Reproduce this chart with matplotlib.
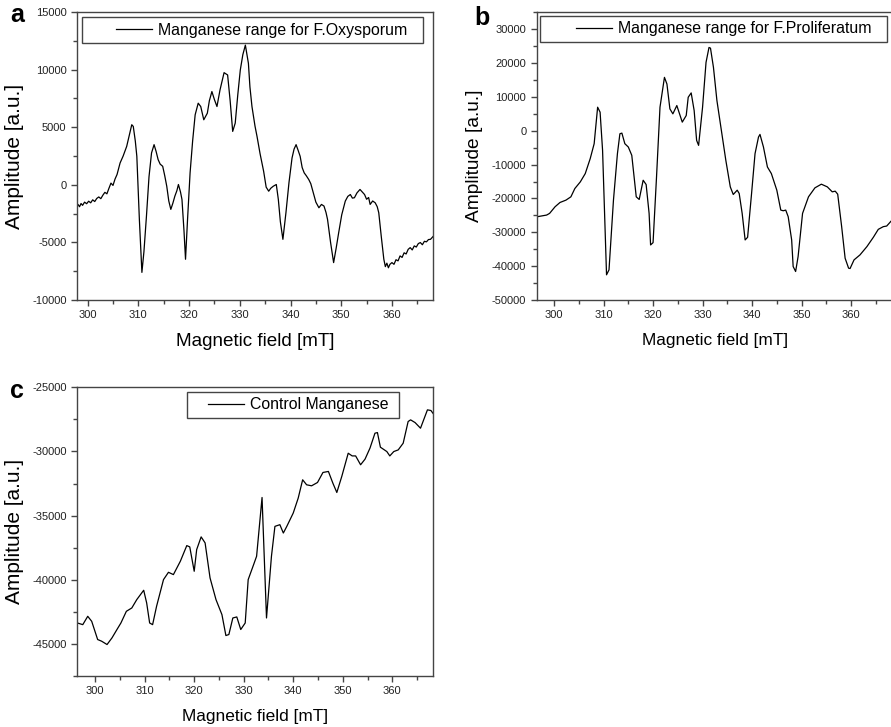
import numpy as np
import matplotlib
matplotlib.use('Agg')
from matplotlib import pyplot as plt
from matplotlib.patches import Rectangle
from matplotlib.ticker import MultipleLocator

plt.rcParams['font.family'] = ['Liberation Sans', 'DejaVu Sans']
plt.rcParams['axes.unicode_minus'] = False

# panel a - F.Oxysporum
field_a = [297.8, 298.1, 298.4, 298.7, 299.0, 299.4, 299.8, 300.2, 300.6, 301.0,
           301.4, 301.8, 302.2, 302.6, 303.0, 303.4, 303.8, 304.2, 304.6, 305.0,
           305.4, 305.8, 306.4, 307.0, 307.7, 308.2, 308.7, 309.0, 309.4, 309.7,
           310.2, 310.7, 311.1, 311.6, 312.1, 312.6, 313.1, 313.5, 313.9, 314.3,
           314.8, 315.2, 315.6, 316.0, 316.4, 316.8, 317.2, 317.6, 317.9, 318.3,
           318.6, 319.0, 319.3, 319.7, 320.2, 320.7, 321.2, 321.8, 322.3, 322.9,
           323.6, 324.0, 324.5, 325.0, 325.5, 326.1, 326.9, 327.6, 328.1, 328.6,
           329.1, 329.6, 330.1, 330.6, 331.1, 331.7, 332.0, 332.4, 333.0, 333.4,
           334.0, 334.7, 335.2, 335.7, 336.1, 336.6, 337.2, 337.6, 338.0, 338.5,
           339.1, 339.7, 340.3, 340.7, 341.1, 341.5, 341.9, 342.3, 342.7, 343.1,
           343.6, 344.0, 344.5, 345.0, 345.6, 346.1, 346.6, 347.0, 347.3, 347.9,
           348.5, 349.0, 349.5, 350.1, 350.8, 351.3, 351.8, 352.2, 352.6, 353.1,
           353.7, 354.1, 354.6, 355.0, 355.4, 355.7, 356.2, 356.7, 357.1, 357.4,
           357.9, 358.4, 358.7, 359.0, 359.3, 359.6, 360.0, 360.4, 360.8, 361.2,
           361.6, 362.0, 362.4, 362.8, 363.2, 363.6, 364.0, 364.4, 364.8, 365.2,
           365.6, 366.0, 366.4, 366.8, 367.2, 367.6, 368.2]
amp_a = [-1990, -1700, -1900, -1620, -1780, -1500, -1640, -1420, -1560, -1300,
         -1450, -1180, -1050, -1200, -900, -650, -780, -300, 150, -50,
         500, 900, 1900, 2500, 3340, 4300, 5220, 5070, 3800, 2480,
         -3000, -7600, -5800, -2700, 700, 2770, 3490, 2900, 2190, 1800,
         1610, 800, -120, -1400, -2130, -1600, -980, -500, 30, -600,
         -1270, -4000, -6460, -3000, 1040, 3800, 6080, 7090, 6800, 5650,
         6220, 7300, 8100, 7400, 6800, 8240, 9740, 9540, 7300, 4640,
         5360, 7800, 9970, 11300, 12130, 10550, 8500, 6800, 5100, 4200,
         2700, 1180, -200, -550, -300, -120, 30, -1270, -3200, -4730,
         -2420, 200, 2330, 3100, 3490, 3000, 2480, 1500, 1040, 800,
         460, 100, -690, -1500, -1990, -1700, -1840, -2400, -3000, -5000,
         -6750, -5500, -4150, -2600, -1410, -1000, -840, -1150, -1120, -700,
         -400, -600, -840, -1250, -1100, -1700, -1400, -1560, -1900, -2420,
         -4500, -6460, -7100, -6800, -7200, -6900, -6750, -6900, -6500, -6600,
         -6170, -6300, -5900, -6000, -5600, -5450, -5650, -5300, -5400, -5100,
         -5010, -5200, -4900, -4950, -4750, -4730, -4440]

# panel b - F.Proliferatum
field_b = [296.6, 298.5, 299.1, 300.2, 301.2, 302.4, 303.4, 304.2, 305.3, 306.3,
           307.3, 308.1, 308.8, 309.3, 309.8, 310.6, 311.1, 312.0, 312.8, 313.3,
           313.7, 314.3, 315.0, 315.7, 316.6, 317.2, 318.0, 318.6, 319.2, 319.5,
           320.0, 320.7, 321.4, 322.3, 322.8, 323.4, 324.0, 324.8, 325.9, 326.7,
           327.1, 327.7, 328.3, 328.8, 329.2, 330.0, 330.7, 331.3, 331.6, 332.2,
           332.9, 333.9, 334.7, 335.6, 336.2, 337.0, 337.4, 338.0, 338.6, 339.1,
           339.9, 340.6, 341.3, 341.6, 342.3, 343.1, 343.9, 345.0, 345.8, 346.3,
           346.8, 347.3, 348.0, 348.3, 348.8, 349.3, 350.2, 351.4, 352.7, 354.0,
           355.2, 356.2, 356.8, 357.3, 358.1, 358.8, 359.5, 359.8, 360.6, 361.8,
           363.2, 364.5, 365.5, 366.5, 367.2, 368.1, 368.6]
amp_b = [-25390, -24900, -24400, -22450, -21180, -20490, -19510, -17060, -15100, -12650,
         -8240, -3820, 6960, 5490, -5780, -42550, -41080, -20490, -6760, -880,
         -690, -3820, -4800, -7250, -19510, -20290, -14610, -15880, -24410, -33730,
         -33040, -13630, 6960, 15780, 13820, 6470, 5000, 7450, 2550, 4510,
         9900, 11180, 5980, -2840, -4310, 6960, 20200, 24610, 24410, 18730,
         8920, -880, -8730, -16570, -18820, -17550, -18530, -24410, -32250, -31470,
         -18530, -6760, -1860, -1080, -4800, -10690, -12650, -17550, -23430, -23630,
         -23430, -25390, -32250, -40100, -41570, -37160, -24410, -19510, -16860, -15780,
         -16570, -18040, -17840, -18730, -28330, -37650, -40590, -40690, -38140, -36670,
         -34220, -31470, -29120, -28330, -28140, -26670, -26000]

# panel c - control
field_c = [296.4, 297.5, 298.5, 299.3, 300.5, 301.3, 302.4, 303.4, 304.4, 305.2,
           306.3, 307.4, 308.4, 309.8, 310.4, 311.0, 311.6, 312.4, 313.8, 314.8,
           315.8, 317.2, 318.5, 319.1, 320.0, 320.5, 321.4, 322.2, 323.2, 324.4,
           325.6, 326.4, 327.0, 327.8, 328.6, 329.4, 330.3, 330.9, 332.0, 332.6,
           333.7, 334.6, 335.6, 336.3, 337.3, 338.0, 338.7, 340.0, 341.0, 341.9,
           342.7, 343.7, 344.9, 346.0, 347.1, 348.0, 348.8, 349.8, 351.1, 351.9,
           352.6, 353.6, 354.5, 355.5, 356.5, 357.0, 357.6, 358.9, 359.5, 360.3,
           361.2, 362.2, 363.2, 363.7, 364.6, 365.7, 367.1, 367.8, 368.3]
amp_c = [-43370, -43500, -42850, -43240, -44660, -44790, -45050, -44530, -43880, -43370,
         -42460, -42200, -41550, -40820, -41810, -43370, -43500, -42070, -39990, -39420,
         -39600, -38560, -37340, -37440, -39340, -37650, -36660, -37130, -39860, -41550,
         -42720, -44350, -44270, -42980, -42900, -43880, -43370, -39990, -38820, -38170,
         -33590, -42980, -38170, -35840, -35710, -36360, -35840, -34800, -33640, -32210,
         -32600, -32680, -32420, -31640, -31560, -32470, -33200, -31950, -30140, -30350,
         -30350, -31040, -30600, -29740, -28580, -28530, -29670, -30010, -30350, -30010,
         -29880, -29360, -27670, -27540, -27750, -28190, -26760, -26810, -27070]

labels = ['Manganese range for F.Oxysporum', 'Manganese range for F.Proliferatum',
          'Control Manganese']

fig = plt.figure(figsize=(8.91, 7.27), dpi=100)
ax_a = fig.add_axes([0.0864, 0.5873, 0.3996, 0.3961])
ax_b = fig.add_axes([0.6024, 0.5873, 0.4000, 0.3958])
ax_c = fig.add_axes([0.0868, 0.0702, 0.3996, 0.3971])


def style(ax, xlim, ylim, ymaj, xlab_size, ylab_size):
    ax.set_xlim(*xlim)
    ax.set_ylim(*ylim)
    ax.xaxis.set_major_locator(MultipleLocator(10))
    ax.xaxis.set_minor_locator(MultipleLocator(5))
    ax.yaxis.set_major_locator(MultipleLocator(ymaj))
    ax.yaxis.set_minor_locator(MultipleLocator(ymaj / 2))
    ax.tick_params(which='major', direction='out', length=4, width=1,
                   labelsize=8, color='#444', labelcolor='#222')
    ax.tick_params(which='minor', direction='out', length=3, width=1, color='#444')
    for s in ax.spines.values():
        s.set_color('#444')
        s.set_linewidth(1)
    ax.set_xlabel('Magnetic field [mT]', fontsize=xlab_size, labelpad=9)
    ax.set_ylabel('Amplitude [a.u.]', fontsize=ylab_size, labelpad=6)


def legend_box(ax, label, center, box):
    leg = ax.legend([label], loc='center', bbox_to_anchor=center, frameon=False,
                    fontsize=11.4, handlelength=2.3, handletextpad=0.35,
                    borderpad=0, borderaxespad=0)
    ax.add_patch(Rectangle((box[0], box[1]), box[2] - box[0], box[3] - box[1],
                           transform=ax.transAxes, fill=False, edgecolor='#444',
                           linewidth=1, zorder=5))
    return leg


ax_a.plot(field_a, amp_a, color='black', linewidth=0.9)
style(ax_a, (297.9, 368.1), (-10000, 15000), 5000, 13.6, 15)
legend_box(ax_a, labels[0], (0.518, 0.9375), (0.014, 0.892, 0.972, 0.983))

ax_b.plot(field_b, amp_b, color='black', linewidth=0.9)
style(ax_b, (296.5, 368.5), (-50000, 35000), 10000, 12.4, 13.8)
legend_box(ax_b, labels[1], (0.5236, 0.942), (0.0093, 0.897, 0.983, 0.987))

ax_c.plot(field_c, amp_c, color='black', linewidth=0.9)
style(ax_c, (296.4, 368.3), (-47500, -25000), 5000, 12.4, 15)
legend_box(ax_c, labels[2], (0.6205, 0.9387), (0.308, 0.894, 0.904, 0.984))

fig.text(0.019, 0.979, 'a', fontsize=18, fontweight='bold', ha='center', va='center')
fig.text(0.541, 0.975, 'b', fontsize=18, fontweight='bold', ha='center', va='center')
fig.text(0.019, 0.462, 'c', fontsize=18, fontweight='bold', ha='center', va='center')

fig.savefig('out.png', dpi=100)
